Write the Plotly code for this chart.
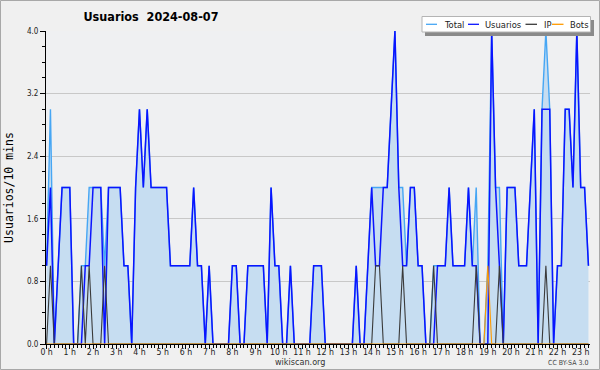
import plotly.graph_objects as go

# ---------------- data (10-minute slots, 0 = 00:00) ----------------
hours = list(range(24))
hour_labels = [f"{h} h" for h in hours]

usuarios = [
    1, 2, 0, 1, 2, 2,   # 0 h
    2, 0, 0, 0, 1, 1,   # 1 h
    2, 2, 2, 0, 2, 2,   # 2 h
    2, 2, 1, 1, 0, 2,   # 3 h
    3, 2, 3, 2, 2, 2,   # 4 h
    2, 2, 1, 1, 1, 1,   # 5 h
    1, 1, 2, 1, 1, 0,   # 6 h
    1, 0, 0, 0, 0, 0,   # 7 h
    1, 1, 0, 0, 1, 1,   # 8 h
    1, 1, 1, 0, 2, 1,   # 9 h
    1, 0, 0, 1, 0, 0,   # 10 h
    0, 0, 0, 1, 1, 1,   # 11 h
    0, 0, 0, 0, 0, 0,   # 12 h
    0, 0, 1, 0, 0, 1,   # 13 h
    2, 1, 1, 2, 2, 3,   # 14 h
    4, 2, 1, 1, 2, 2,   # 15 h
    1, 1, 0, 0, 0, 1,   # 16 h
    1, 1, 2, 1, 1, 1,   # 17 h
    1, 2, 1, 1, 0, 0,   # 18 h
    0, 4, 2, 1, 0, 2,   # 19 h
    2, 2, 1, 1, 1, 2,   # 20 h
    3, 0, 3, 3, 3, 0,   # 21 h
    1, 1, 3, 3, 2, 4,   # 22 h
    2, 2, 1,            # 23 h
]

ip = [
    0, 1, 0, 0, 0, 0,
    0, 0, 0, 1, 0, 1,
    0, 0, 0, 1, 0, 0,
    0, 0, 0, 0, 0, 0,
    0, 0, 0, 0, 0, 0,
    0, 0, 0, 0, 0, 0,
    0, 0, 0, 0, 0, 0,
    0, 0, 0, 0, 0, 0,
    0, 0, 0, 0, 0, 0,
    0, 0, 0, 0, 0, 0,
    0, 0, 0, 0, 0, 0,
    0, 0, 0, 0, 0, 0,
    0, 0, 0, 0, 0, 0,
    0, 0, 0, 0, 0, 0,
    0, 1, 1, 0, 0, 0,
    0, 0, 1, 0, 0, 0,
    0, 0, 0, 0, 1, 0,
    0, 0, 0, 0, 0, 0,
    0, 0, 0, 1, 0, 0,
    0, 0, 0, 1, 0, 0,
    0, 0, 0, 0, 0, 0,
    0, 0, 0, 1, 0, 0,
    0, 0, 0, 0, 0, 0,
    0, 0, 0,
]

bots = [
    0, 0, 0, 0, 0, 0,
    0, 0, 0, 0, 0, 0,
    0, 0, 0, 0, 0, 0,
    0, 0, 0, 0, 0, 0,
    0, 0, 0, 0, 0, 0,
    0, 0, 0, 0, 0, 0,
    0, 0, 0, 0, 0, 0,
    0, 0, 0, 0, 0, 0,
    0, 0, 0, 0, 0, 0,
    0, 0, 0, 0, 0, 0,
    0, 0, 0, 0, 0, 0,
    0, 0, 0, 0, 0, 0,
    0, 0, 0, 0, 0, 0,
    0, 0, 0, 0, 0, 0,
    0, 0, 0, 0, 0, 0,
    0, 0, 0, 0, 0, 0,
    0, 0, 0, 0, 0, 0,
    0, 0, 0, 0, 0, 0,
    0, 0, 0, 0, 0, 0,
    1, 0, 0, 0, 0, 0,
    0, 0, 0, 0, 0, 0,
    0, 0, 0, 0, 0, 0,
    0, 0, 0, 0, 0, 0,
    0, 0, 0,
]

total = [
    1, 3, 0, 1, 2, 2,
    2, 0, 0, 1, 1, 2,
    2, 2, 2, 1, 2, 2,
    2, 2, 1, 1, 0, 2,
    3, 2, 3, 2, 2, 2,
    2, 2, 1, 1, 1, 1,
    1, 1, 2, 1, 1, 0,
    1, 0, 0, 0, 0, 0,
    1, 1, 0, 0, 1, 1,
    1, 1, 1, 0, 2, 1,
    1, 0, 0, 1, 0, 0,
    0, 0, 0, 1, 1, 1,
    0, 0, 0, 0, 0, 0,
    0, 0, 1, 0, 0, 1,
    2, 2, 2, 2, 2, 3,
    4, 2, 2, 1, 2, 2,
    1, 1, 0, 0, 1, 1,
    1, 1, 2, 1, 1, 1,
    1, 2, 1, 2, 0, 0,
    1, 4, 2, 2, 0, 2,
    2, 2, 1, 1, 1, 2,
    3, 0, 3, 4, 3, 0,
    1, 1, 3, 3, 2, 4,
    2, 2, 1,
]

slots = list(range(len(usuarios)))
hour_ticks = [6 * h for h in hours]

y_ticks = [0.0, 0.8, 1.6, 2.4, 3.2, 4.0]
y_labels = [f"{v:.1f}" for v in y_ticks]

legend_names = ["Total", "Usuarios", "IP", "Bots"]

# ---------------- styling ----------------
FONT = "DejaVu Sans Condensed, DejaVu Sans, sans-serif"
C_TOTAL = "#46a6f4"
C_USERS = "#0a14ff"
C_IP = "#3a3a3a"
C_BOTS = "#ff9a00"
FILL = "#c6ddf1"

W, H = 600, 370
L, R, T, B = 46, 10, 31, 26


def px(x):
    return (x - L) / (W - L - R)


def py(y):
    return (H - B - y) / (H - T - B)


fig = go.Figure()
fig.add_trace(go.Scatter(x=slots, y=total, name="Total", mode="lines",
                         line=dict(color=C_TOTAL, width=1.4),
                         fill="tozeroy", fillcolor=FILL))
fig.add_trace(go.Scatter(x=slots, y=usuarios, name="Usuarios", mode="lines",
                         line=dict(color=C_USERS, width=1.5)))
fig.add_trace(go.Scatter(x=slots, y=ip, name="IP", mode="lines",
                         line=dict(color=C_IP, width=1.1)))
fig.add_trace(go.Scatter(x=slots, y=bots, name="Bots", mode="lines",
                         line=dict(color=C_BOTS, width=1.1)))

fig.update_layout(
    width=W, height=H,
    margin=dict(l=L, r=R, t=T, b=B),
    paper_bgcolor="#f0f0f0",
    plot_bgcolor="#eff0f2",
    showlegend=False,
    font=dict(family=FONT, size=9, color="#222222"),
    title=dict(text="Usuarios  2024-08-07", x=151 / W, xanchor="center",
               y=1 - 17 / H, yanchor="middle", xref="container", yref="container",
               font=dict(family=FONT, size=12.5, color="#000000", weight="bold")),
)

fig.update_xaxes(
    range=[-0.15, 140.4],
    tickmode="array", tickvals=hour_ticks, ticktext=hour_labels,
    ticks="outside", ticklen=4, tickcolor="#000000", tickwidth=1,
    ticklabelstandoff=-4,
    showline=True, linecolor="#000000", linewidth=1,
    showgrid=False, zeroline=False,
    tickfont=dict(family=FONT, size=8.7, color="#222222"),
    minor=dict(tickmode="linear", tick0=0, dtick=1, ticks="outside",
               ticklen=3, tickcolor="#000000", showgrid=False),
)

fig.update_yaxes(
    range=[0, 4],
    tickmode="array", tickvals=y_ticks, ticktext=y_labels,
    ticks="outside", ticklen=5, tickcolor="#000000", tickwidth=1,
    showline=True, linecolor="#000000", linewidth=1,
    showgrid=True, gridcolor="#c8c8c8", gridwidth=1, zeroline=False,
    tickfont=dict(family=FONT, size=8, color="#222222"),
    minor=dict(tickmode="linear", tick0=0, dtick=0.2, ticks="outside",
               ticklen=3, tickcolor="#000000", showgrid=False),
    title=dict(text="Usuarios/10 mins", standoff=10,
               font=dict(family="DejaVu Sans Mono, monospace", size=11.5, color="#000000")),
)

shapes = []
# legend shadow + box
shapes.append(dict(type="rect", xref="paper", yref="paper",
                   x0=px(425), x1=px(594), y0=py(20), y1=py(36),
                   fillcolor="#8a8a8a", line=dict(width=0)))
shapes.append(dict(type="rect", xref="paper", yref="paper",
                   x0=px(422), x1=px(590.5), y0=py(16.5), y1=py(32),
                   fillcolor="#ffffff", line=dict(color="#b4b4b4", width=1)))
legend_colors = [C_TOTAL, C_USERS, C_IP, C_BOTS]
legend_line_x = [(426, 437), (468, 479), (525.5, 537), (552, 563.5)]
legend_text_x = [442, 483, 541.5, 568]
annotations = []
for name, col, (a, b), tx in zip(legend_names, legend_colors, legend_line_x, legend_text_x):
    shapes.append(dict(type="line", xref="paper", yref="paper",
                       x0=px(a), x1=px(b), y0=py(24.3), y1=py(24.3),
                       line=dict(color=col, width=1.3)))
    annotations.append(dict(text=name, xref="paper", yref="paper",
                            x=px(tx), y=py(24.5), xanchor="left", yanchor="middle",
                            showarrow=False,
                            font=dict(family=FONT, size=9.3, color="#222222")))
# outer border
shapes.append(dict(type="rect", xref="paper", yref="paper",
                   x0=px(0.5), x1=px(599.5), y0=py(0.5), y1=py(369.5),
                   line=dict(color="#a8a8a8", width=1), fillcolor="rgba(0,0,0,0)"))

annotations.append(dict(text="wikiscan.org", xref="paper", yref="paper",
                        x=px(300), y=py(362), xanchor="center", yanchor="middle",
                        showarrow=False,
                        font=dict(family=FONT, size=9, color="#333333")))
annotations.append(dict(text="CC BY-SA 3.0", xref="paper", yref="paper",
                        x=px(589.5), y=py(363), xanchor="right", yanchor="middle",
                        showarrow=False,
                        font=dict(family=FONT, size=7, color="#444444")))

fig.update_layout(shapes=shapes, annotations=annotations)

fig.write_html("out.html")
